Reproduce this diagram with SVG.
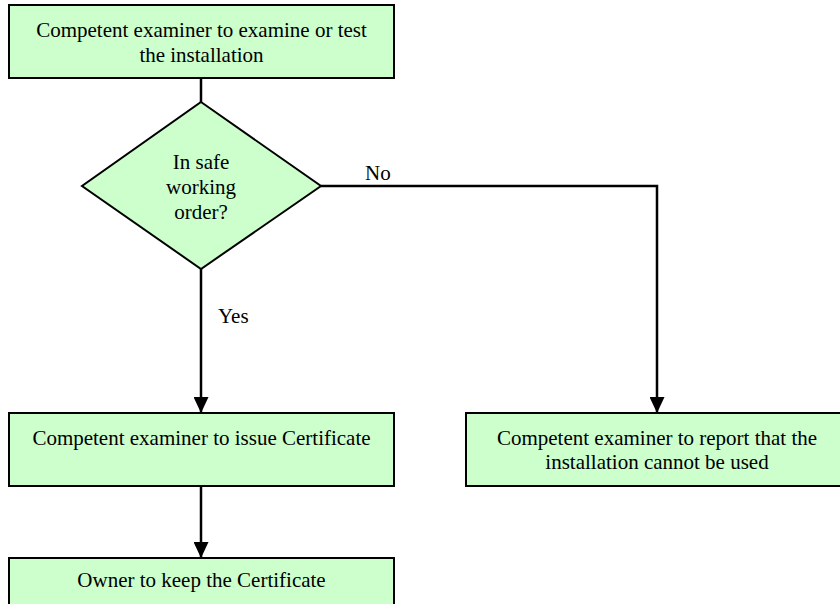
<svg xmlns="http://www.w3.org/2000/svg" width="840" height="604" viewBox="0 0 840 604">
<style>
text{font-family:'Liberation Serif','Times New Roman','DejaVu Serif',serif;font-size:21px;fill:#000}
.box{fill:#ccffcc;stroke:#000;stroke-width:2}
.t{text-anchor:middle}
.c{fill:none;stroke:#000;stroke-width:2.5}
</style>
<defs>
<marker id="arr" viewBox="0 0 16 15" refX="16" refY="7.5" markerWidth="16" markerHeight="15" markerUnits="userSpaceOnUse" orient="auto">
<path d="M0,0 L16,7.5 L0,15 Z" fill="#000"/>
</marker>
</defs>
<rect width="840" height="604" fill="#fff"/>
<g id="connectors">
<path class="c" d="M201,78 V102"/>
<path class="c" d="M201,269 V413" marker-end="url(#arr)"/>
<path class="c" d="M321,186 H657 V413" marker-end="url(#arr)"/>
<path class="c" d="M201,486 V558" marker-end="url(#arr)"/>
<text x="365" y="180">No</text>
<text x="218" y="323">Yes</text>
</g>
<g id="start">
<rect class="box" x="9" y="5" width="385" height="73"/>
<text class="t" x="201.5" y="37">Competent examiner to examine or test</text>
<text class="t" x="201.5" y="62">the installation</text>
</g>
<g id="decision">
<polygon class="box" points="201,102 321,186 201,269 82,186"/>
<text class="t" x="201" y="169">In safe</text>
<text class="t" x="201" y="194">working</text>
<text class="t" x="201" y="219">order?</text>
</g>
<g id="issue">
<rect class="box" x="9" y="413" width="385" height="73"/>
<text class="t" x="201.5" y="445">Competent examiner to issue Certificate</text>
</g>
<g id="report">
<rect class="box" x="466" y="413" width="385" height="73"/>
<text class="t" x="657" y="445">Competent examiner to report that the</text>
<text class="t" x="657" y="469">installation cannot be used</text>
</g>
<g id="keep">
<rect class="box" x="9" y="558" width="385" height="73"/>
<text class="t" x="201.5" y="587">Owner to keep the Certificate</text>
</g>
</svg>
